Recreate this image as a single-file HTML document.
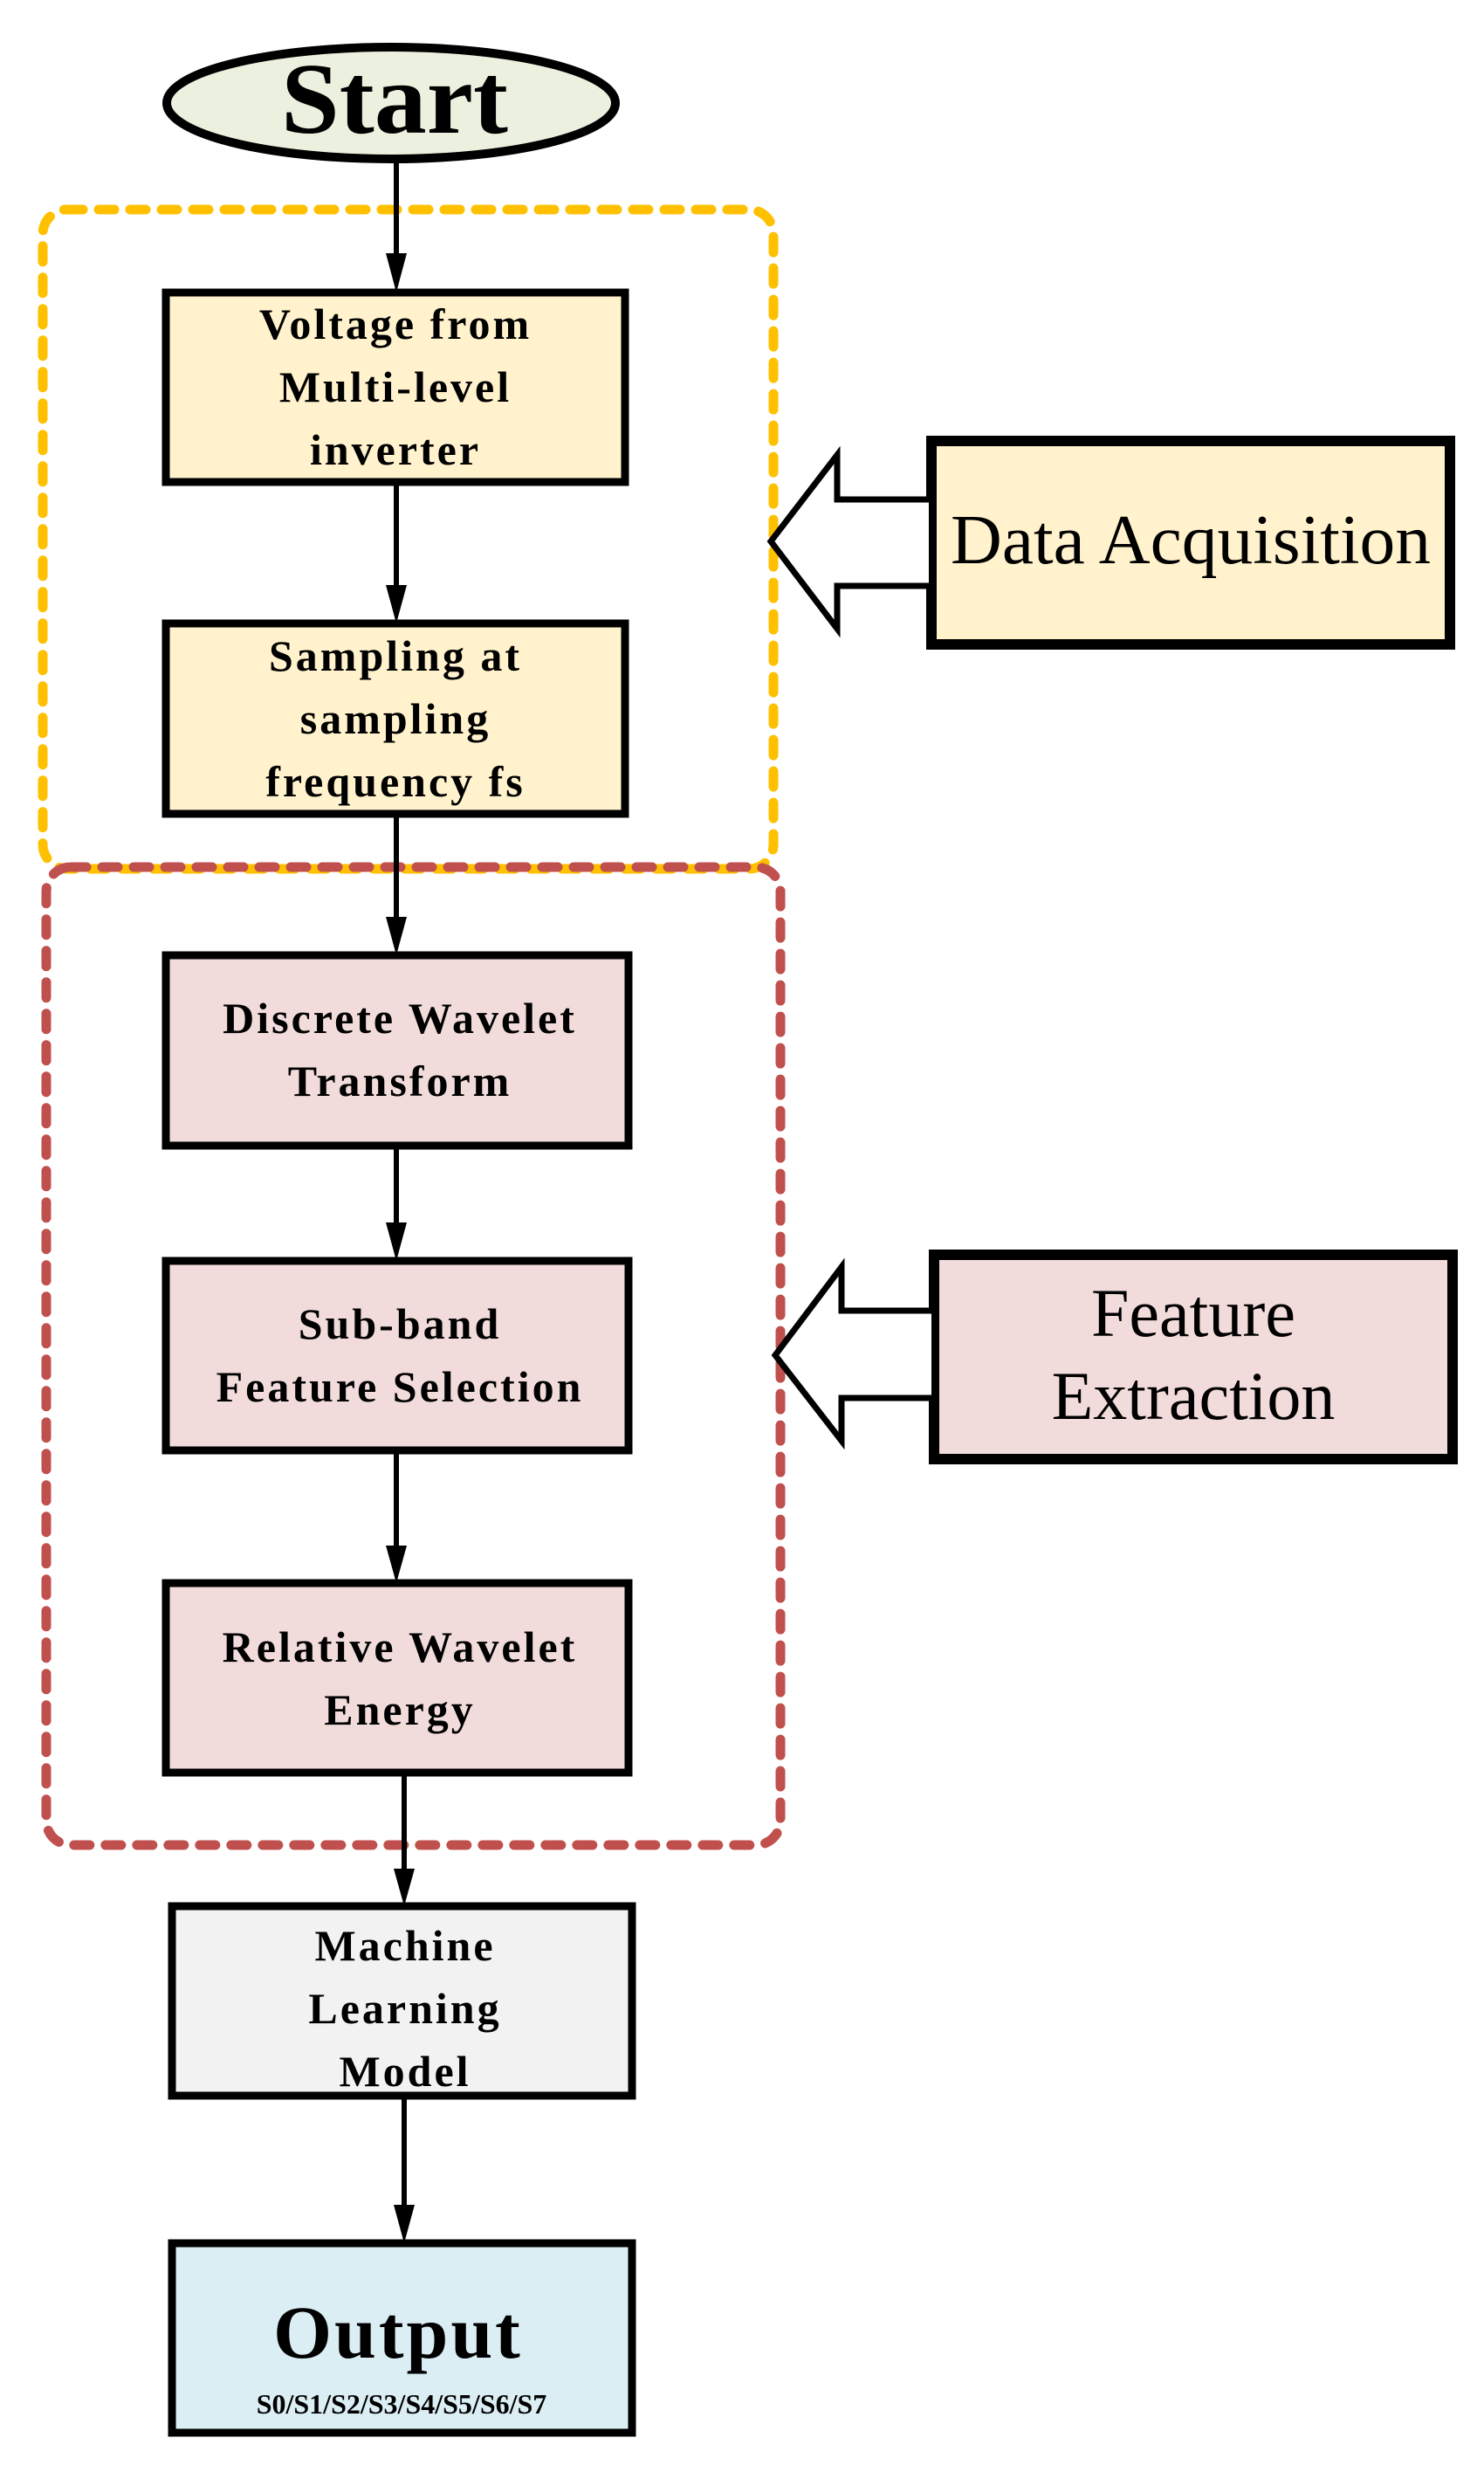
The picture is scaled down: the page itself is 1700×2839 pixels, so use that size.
<!DOCTYPE html>
<html><head><meta charset="utf-8"><style>
html,body{margin:0;padding:0;background:#fff}
svg text{font-family:"Liberation Serif",serif}
</style></head><body>
<svg width="1700" height="2834" viewBox="0 0 1700 2834" xmlns="http://www.w3.org/2000/svg">
<!-- group boxes -->
<rect x="49" y="240" width="837" height="755" rx="28" fill="none" stroke="#FFC000" stroke-width="11" stroke-dasharray="18 18" stroke-linecap="round"/>
<rect x="53" y="993" width="841" height="1120" rx="28" fill="none" stroke="#C0504D" stroke-width="11" stroke-dasharray="18 18" stroke-linecap="round"/>
<!-- connectors -->
<g stroke="#000" stroke-width="6">
<line x1="454" y1="181" x2="454" y2="300"/>
<line x1="454" y1="552" x2="454" y2="680"/>
<line x1="454" y1="932" x2="454" y2="1060"/>
<line x1="454" y1="1312" x2="454" y2="1410"/>
<line x1="454" y1="1661" x2="454" y2="1780"/>
<line x1="463" y1="2030" x2="463" y2="2150"/>
<line x1="463" y1="2400" x2="463" y2="2535"/>
</g>
<g fill="#000">
<path d="M442,290 L466,290 L454,335 Z"/>
<path d="M442,670 L466,670 L454,714 Z"/>
<path d="M442,1050 L466,1050 L454,1094 Z"/>
<path d="M442,1400 L466,1400 L454,1444 Z"/>
<path d="M442,1770 L466,1770 L454,1813 Z"/>
<path d="M451,2140 L475,2140 L463,2183 Z"/>
<path d="M451,2525 L475,2525 L463,2569 Z"/>
</g>
<!-- start -->
<ellipse cx="448" cy="118" rx="257" ry="64" fill="#EBF1DE" stroke="#000" stroke-width="10"/>
<text x="452" y="152" font-size="116" font-weight="bold" text-anchor="middle" textLength="260" lengthAdjust="spacingAndGlyphs">Start</text>
<!-- boxes -->
<g stroke="#000" stroke-width="9">
<rect x="190" y="335" width="526" height="217" fill="#FFF2CC"/>
<rect x="190" y="714" width="526" height="218" fill="#FFF2CC"/>
<rect x="190" y="1094" width="530" height="218" fill="#F2DCDB"/>
<rect x="190" y="1444" width="530" height="217" fill="#F2DCDB"/>
<rect x="190" y="1813" width="530" height="217" fill="#F2DCDB"/>
<rect x="197" y="2183" width="527" height="217" fill="#F2F2F2"/>
<rect x="197" y="2569" width="527" height="217" fill="#DBEEF4"/>
</g>
<g font-size="50" font-weight="bold" text-anchor="middle" letter-spacing="3">
<text x="453" y="388">Voltage from</text>
<text x="453" y="460">Multi-level</text>
<text x="453" y="532">inverter</text>
<text x="453" y="768">Sampling at</text>
<text x="453" y="840">sampling</text>
<text x="453" y="912">frequency fs</text>
<text x="458" y="1183">Discrete Wavelet</text>
<text x="458" y="1255">Transform</text>
<text x="458" y="1533">Sub-band</text>
<text x="458" y="1605">Feature Selection</text>
<text x="458" y="1903">Relative Wavelet</text>
<text x="458" y="1975">Energy</text>
<text x="464" y="2245">Machine</text>
<text x="464" y="2317">Learning</text>
<text x="464" y="2389">Model</text>
</g>
<text x="456" y="2700" font-size="86" font-weight="bold" text-anchor="middle" letter-spacing="3">Output</text>
<text x="460" y="2764" font-size="32" font-weight="bold" text-anchor="middle">S0/S1/S2/S3/S4/S5/S6/S7</text>
<!-- side boxes -->
<rect x="1067" y="505" width="594" height="233" fill="#FFF2CC" stroke="#000" stroke-width="12"/>
<text x="1364" y="645" font-size="80" text-anchor="middle" textLength="550" lengthAdjust="spacingAndGlyphs">Data Acquisition</text>
<path d="M1064,572 L959,572 L959,521 L883,620 L959,720 L959,671 L1064,671" fill="#fff" stroke="#000" stroke-width="7"/>
<rect x="1070" y="1437" width="594" height="234" fill="#F2DCDB" stroke="#000" stroke-width="12"/>
<text x="1367" y="1530" font-size="78" text-anchor="middle">Feature</text>
<text x="1367" y="1625" font-size="78" text-anchor="middle">Extraction</text>
<path d="M1067,1501 L964,1501 L964,1451 L888,1552 L964,1650 L964,1601 L1067,1601" fill="#fff" stroke="#000" stroke-width="7"/>
</svg>
</body></html>
